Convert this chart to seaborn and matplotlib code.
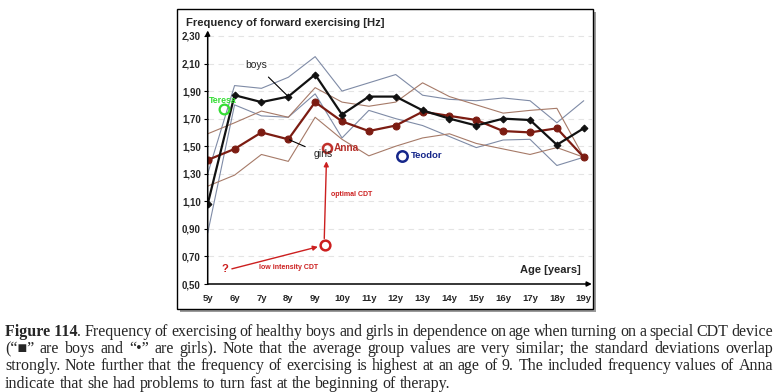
import numpy as np
import pandas as pd
import matplotlib
matplotlib.use("Agg")
import matplotlib.pyplot as plt
from matplotlib.patches import Rectangle
import seaborn as sb

# chart data
ages = [5, 6, 7, 8, 9, 10, 11, 12, 13, 14, 15, 16, 17, 18, 19]
age_labels = ["5y", "6y", "7y", "8y", "9y", "10y", "11y", "12y", "13y", "14y",
              "15y", "16y", "17y", "18y", "19y"]
boys_mean = [1.08, 1.87, 1.82, 1.86, 2.02, 1.73, 1.86, 1.86, 1.76, 1.70, 1.65, 1.70, 1.69, 1.51, 1.63]
girls_mean = [1.40, 1.48, 1.60, 1.55, 1.82, 1.68, 1.61, 1.65, 1.75, 1.72, 1.69, 1.61, 1.60, 1.63, 1.42]
boys_upper = [1.30, 1.94, 1.92, 2.00, 2.15, 1.90, 1.96, 2.02, 1.87, 1.84, 1.83, 1.85, 1.83, 1.67, 1.83]
boys_lower = [0.87, 1.80, 1.72, 1.71, 1.88, 1.56, 1.76, 1.70, 1.65, 1.57, 1.49, 1.545, 1.55, 1.36, 1.42]
girls_upper = [1.59, 1.67, 1.755, 1.71, 1.925, 1.82, 1.79, 1.82, 1.96, 1.86, 1.80, 1.74, 1.76, 1.775, 1.42]
girls_lower = [1.21, 1.29, 1.44, 1.39, 1.71, 1.55, 1.43, 1.50, 1.56, 1.59, 1.52, 1.48, 1.44, 1.49, 1.42]

y_ticks = [0.5, 0.7, 0.9, 1.1, 1.3, 1.5, 1.7, 1.9, 2.1, 2.3]
y_tick_labels = ["0,50", "0,70", "0,90", "1,10", "1,30", "1,50", "1,70", "1,90", "2,10", "2,30"]

# single children
teresa = (5.6, 1.77)
anna = (9.45, 1.485)
anna_low = (9.36, 0.78)
teodor = (12.25, 1.43)

caption_lines = [
    "Frequency of exercising of healthy boys and girls in dependence on age when turning on a special CDT device",
    "(\u201c\u25a0\u201d are boys and \u201c\u2022\u201d are girls). Note that the average group values are very similar; the standard deviations overlap",
    "strongly. Note further that the frequency of exercising is highest at an age of 9. The included frequency values of Anna",
    "indicate that she had problems to turn fast at the beginning of therapy.",
]

df = pd.DataFrame({"age": ages, "boys": boys_mean, "girls": girls_mean,
                   "boys_up": boys_upper, "boys_lo": boys_lower,
                   "girls_up": girls_upper, "girls_lo": girls_lower})

sb.set_style("white")
plt.rcParams["font.family"] = ["Liberation Sans", "DejaVu Sans"]

W, H = 778, 392
fig = plt.figure(figsize=(W / 100, H / 100), dpi=100)

# framed box with shadow
fig.patches.append(Rectangle((180 / W, 1 - 312 / H), 416 / W, 300 / H, transform=fig.transFigure,
                             facecolor="#9a9a9a", edgecolor="none", zorder=0))
fig.patches.append(Rectangle((177 / W, 1 - 309 / H), 416 / W, 300 / H, transform=fig.transFigure,
                             facecolor="white", edgecolor="black", lw=1.0, zorder=1))

x0, x1 = 5, 19.3
y0, y1 = 0.5, 2.34
left_px, right_px = 207.7, 207.7 + (x1 - x0) * 26.86
bot_px, top_px = 284, 284 - (y1 - y0) * 137.8
ax = fig.add_axes([left_px / W, 1 - bot_px / H, (right_px - left_px) / W, (bot_px - top_px) / H])
ax.set_facecolor("none")
ax.set_zorder(2)

sd_boys_col = "#7f8ba6"
sd_girls_col = "#a67a68"
girls_col = "#7c1c12"

sb.lineplot(data=df, x="age", y="boys_up", color=sd_boys_col, lw=0.8, ax=ax)
sb.lineplot(data=df, x="age", y="boys_lo", color=sd_boys_col, lw=0.8, ax=ax)
sb.lineplot(data=df, x="age", y="girls_up", color=sd_girls_col, lw=0.8, ax=ax)
sb.lineplot(data=df, x="age", y="girls_lo", color=sd_girls_col, lw=0.8, ax=ax)
sb.lineplot(data=df, x="age", y="girls", color=girls_col, lw=1.6, marker="o",
            markersize=5, markeredgecolor=girls_col, ax=ax)
sb.lineplot(data=df, x="age", y="boys", color="#111111", lw=1.6, marker="D",
            markersize=3.5, markeredgecolor="#111111", ax=ax)

ax.set_xlim(x0, x1)
ax.set_ylim(y0, y1)
ax.set_xlabel("")
ax.set_ylabel("")
for s in ax.spines.values():
    s.set_visible(False)
ax.set_yticks(y_ticks)
ax.set_yticklabels(y_tick_labels, fontsize=7, fontweight="bold")
ax.set_xticks(ages)
ax.set_xticklabels(age_labels, fontsize=6.8, fontweight="bold")
ax.tick_params(axis="y", length=3, width=0.8, pad=2, color="black", left=True)
ax.tick_params(axis="x", length=0, pad=7)
for yv in y_ticks[1:]:
    ax.axhline(yv, color="#e4e4e4", lw=0.8, ls=(0, (5, 4)), zorder=0)

arrow_kw = dict(arrowstyle="-|>", color="black", lw=1.1, mutation_scale=7, shrinkA=0, shrinkB=0)
ax.annotate("", xy=(x0, y1), xytext=(x0, y0), arrowprops=arrow_kw, annotation_clip=False)
ax.annotate("", xy=(x1, y0), xytext=(x0, y0), arrowprops=arrow_kw, annotation_clip=False)

# labels on the curves
ax.annotate("boys", xy=(8, 1.86), xytext=(6.8, 2.09), fontsize=7.5, ha="center", va="center",
            arrowprops=dict(arrowstyle="-", color="black", lw=0.8, shrinkA=4, shrinkB=1))
ax.annotate("girls", xy=(8, 1.55), xytext=(9.3, 1.44), fontsize=7.5, ha="center", va="center",
            arrowprops=dict(arrowstyle="-", color="black", lw=0.8, shrinkA=4, shrinkB=1))

green = "#33dd33"
red = "#cc1f1f"
navy = "#15268a"
ax.plot(*teresa, marker="o", ms=7, mfc="none", mec=green, mew=1.6)
ax.text(teresa[0] - 0.05, teresa[1] + 0.065, "Teresa", color=green, fontsize=6.3, fontweight="bold",
        ha="center", va="center", zorder=3)
ax.plot(*anna, marker="o", ms=6.5, mfc="none", mec="#c0302a", mew=1.8)
ax.text(anna[0] + 0.25, anna[1], "Anna", color="#b5302a", fontsize=7.3, fontweight="bold", va="center")
ax.plot(*teodor, marker="o", ms=7.5, mfc="none", mec=navy, mew=1.8)
ax.text(teodor[0] + 0.3, teodor[1], "Teodor", color=navy, fontsize=6.8, fontweight="bold", va="center")
ax.plot(*anna_low, marker="o", ms=7, mfc="none", mec=red, mew=1.8)

ax.text(5.64, 0.61, "?", color=red, fontsize=8, fontweight="bold", ha="center", va="center")
ax.annotate("", xy=(9.1, 0.77), xytext=(5.9, 0.61),
            arrowprops=dict(arrowstyle="-|>", color=red, lw=1.0, mutation_scale=7, shrinkA=0, shrinkB=0))
ax.text(8.0, 0.62, "low intensity CDT", color=red, fontsize=5, fontweight="bold",
        ha="center", va="center")
ax.annotate("", xy=(9.42, 1.39), xytext=(9.34, 0.83),
            arrowprops=dict(arrowstyle="-|>", color=red, lw=1.0, mutation_scale=7, shrinkA=0, shrinkB=0))
ax.text(9.58, 1.15, "optimal CDT", color=red, fontsize=5, fontweight="bold", va="center")

ax.text(18.88, 0.6, "Age [years]", fontsize=8, fontweight="bold", ha="right", va="center")

fig.text(186 / W, 1 - 23 / H, "Frequency of forward exercising [Hz]", fontsize=8.1,
         fontweight="bold", va="center", ha="left")

# caption, justified word by word
renderer = fig.canvas.get_renderer()
cap_left, cap_right = 5, 773
cap_base = [335.5, 353, 370.5, 388]
cap_size = 11.5
serif = ["Liberation Serif", "DejaVu Sans"]


def text_width(s, **kw):
    t = fig.text(0, 0, s, fontsize=cap_size, family=serif, **kw)
    w = t.get_window_extent(renderer).width
    t.remove()
    return w


for i, line in enumerate(caption_lines):
    yb = 1 - cap_base[i] / H
    groups = []  # each group is a list of texts drawn without a gap
    if i == 0:
        groups.append([fig.text(0, yb, "Figure 114", fontsize=cap_size, family=serif,
                                fontweight="bold", va="baseline"),
                       fig.text(0, yb, ".", fontsize=cap_size, family=serif, va="baseline")])
    words = line.split(" ")
    for w in words:
        groups.append([fig.text(0, yb, w, fontsize=cap_size, family=serif, va="baseline")])
    widths = [[t.get_window_extent(renderer).width for t in g] for g in groups]
    total = sum(sum(w) for w in widths)
    if i < len(caption_lines) - 1:
        gap = (cap_right - cap_left - total) / (len(groups) - 1)
    else:
        natural = text_width(line)
        gap = (natural - sum(sum(w) for w in widths)) / (len(words) - 1)
    x = cap_left
    for g, ws in zip(groups, widths):
        for t, w in zip(g, ws):
            t.set_x(x / W)
            x += w
        x += gap

fig.savefig("out.png", dpi=100)
